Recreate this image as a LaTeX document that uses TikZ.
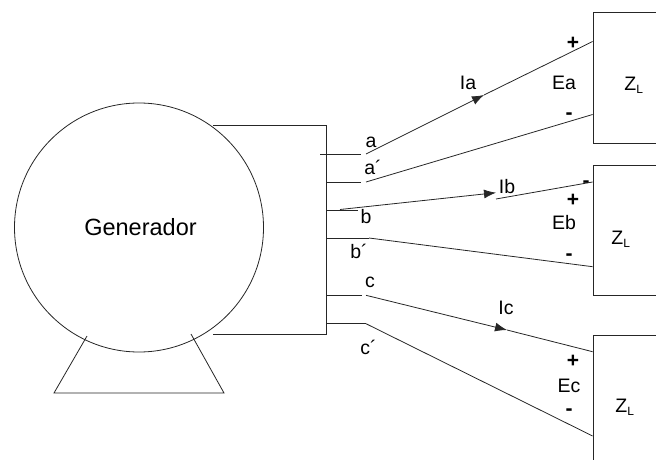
\documentclass[tikz,border=0pt]{standalone}
\usepackage{fontspec}
\setmainfont{Liberation Sans}
\tikzset{
  x=1pt,y=-1pt,
  wire/.style={draw=black!85,line width=0.8pt},
  lbl/.style={inner sep=0pt,anchor=base,text=black,font=\fontsize{19.5}{19.5}\selectfont},
  big/.style={lbl,font=\fontsize{23.5}{23.5}\selectfont},
  sgn/.style={lbl,font=\fontsize{21}{21}\selectfont\bfseries},
  load/.style={draw=black!85,line width=0.8pt,fill=white,minimum width=90pt,inner sep=0pt,anchor=north west},
  tip/.style={-{Latex[length=12pt,width=9pt]}}
}
\usetikzlibrary{arrows.meta}
\newcommand{\ZL}{Z\textsubscript{\fontsize{12}{12}\selectfont L}}
\begin{document}
\begin{tikzpicture}
\useasboundingbox (0,0) rectangle (656,460);
\clip (0,0) rectangle (656,460);
% stator box
\coordinate (bt) at (213,125.7);
\coordinate (btr) at (326.3,125.7);
\coordinate (bbr) at (326.3,334.7);
\coordinate (bb) at (213,334.7);
\draw[wire] (bt) -- (btr) -- (bbr) -- (bb);
% generator
\node[circle,draw=black!85,line width=0.8pt,minimum size=249pt,inner sep=0pt] (gen) at (139,227.5) {};
\node[big] (gent) at (140.5,235) {Generador};
% feet
\coordinate (f1) at (87,336);
\coordinate (f2) at (54,393);
\coordinate (f3) at (224,393);
\coordinate (f4) at (191,334);
\draw[wire] (f1) -- (f2) -- (f3) -- (f4);
% loads
\node[load,minimum height=130pt] (za) at (592.6,12.5) {};
\node[load,minimum height=130pt] (zb) at (592.6,165) {};
\node[load,minimum height=130pt] (zc) at (592.6,334.5) {};
% stubs
\coordinate (sa0) at (320,154); \coordinate (sa1) at (361,154);
\coordinate (sA0) at (326.3,182); \coordinate (sA1) at (361,182);
\coordinate (sb0) at (326.3,210); \coordinate (sb1) at (358,210);
\coordinate (sB0) at (326.3,238); \coordinate (sB1) at (369,238);
\coordinate (sc0) at (326.3,295.3); \coordinate (sc1) at (362,295.3);
\coordinate (sC0) at (326.3,323.7); \coordinate (sC1) at (366,323.7);
\draw[wire] (sa0) -- (sa1);
\draw[wire] (sA0) -- (sA1);
\draw[wire] (sb0) -- (sb1);
\draw[wire] (sB0) -- (sB1);
\draw[wire] (sc0) -- (sc1);
\draw[wire] (sC0) -- (sC1);
% line ends
\coordinate (la0) at (366,154); \coordinate (la1) at (484,95); \coordinate (la2) at (592.6,41.5);
\coordinate (lA0) at (366,182); \coordinate (lA1) at (592.6,114.5);
\coordinate (lb0) at (340,209.5); \coordinate (lb1) at (496,192.7);
\coordinate (lb2) at (496,199); \coordinate (lb3) at (592.6,182);
\coordinate (lB1) at (592.6,266.7);
\coordinate (lc0) at (366,295.3); \coordinate (lc1) at (507,330); \coordinate (lc2) at (592.6,351.7);
\coordinate (lC1) at (592.6,436);
\draw[wire,tip] (la0) -- (la1);
\draw[wire] (la1) -- (la2);
\draw[wire] (lA0) -- (lA1);
\draw[wire,tip] (lb0) -- (lb1);
\draw[wire] (lb2) -- (lb3);
\draw[wire] (sB1) -- (lB1);
\draw[wire,tip] (lc0) -- (lc1);
\draw[wire] (lc1) -- (lc2);
\draw[wire] (sC1) -- (lC1);
% labels
\node[lbl] (ta) at (371,147) {a};
\node[lbl] (tA) at (373,174) {a´};
\node[lbl] (tb) at (366,223) {b};
\node[lbl] (tB) at (359,258) {b´};
\node[lbl] (tc) at (370,287) {c};
\node[lbl] (tC) at (368.5,354) {c´};
\node[lbl] (tIa) at (468,89) {Ia};
\node[lbl] (tIb) at (507,193) {Ib};
\node[lbl] (tIc) at (506,314) {Ic};
\node[lbl] (tEa) at (564,89) {Ea};
\node[lbl] (tEb) at (564,229) {Eb};
\node[lbl] (tEc) at (569,392) {Ec};
\node[lbl] (zal) at (634,90) {\ZL};
\node[lbl] (zbl) at (621,244) {\ZL};
\node[lbl] (zcl) at (625,412) {\ZL};
\node[sgn] (pa) at (573,49) {+};
\node[sgn] (pb) at (573,206) {+};
\node[sgn] (pc) at (573,367) {+};
\node[sgn] (ma) at (569,119.5) {-};
\node[sgn] (mb) at (586,187) {-};
\node[sgn] (mB) at (569,260.5) {-};
\node[sgn] (mc) at (569,415) {-};
\end{tikzpicture}
\end{document}
